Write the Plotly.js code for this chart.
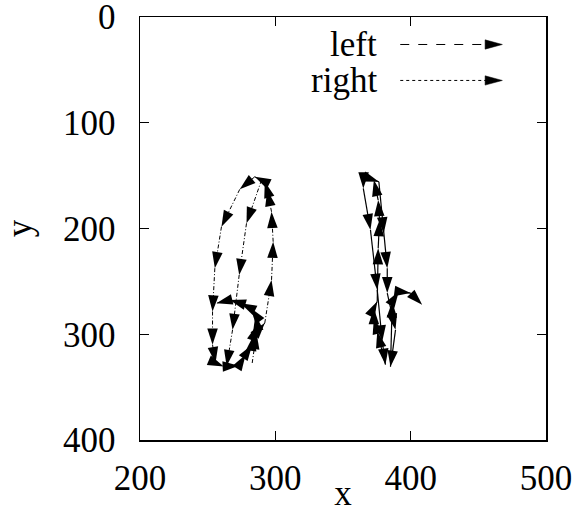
<!DOCTYPE html>
<html>
<head>
<meta charset="utf-8">
<script src="https://cdn.plot.ly/plotly-3.0.1.min.js"></script>
<style>html,body{margin:0;padding:0;background:#fff;}#chart{width:588px;height:513px;}</style>
</head>
<body>
<div id="chart"></div>
<script>
// ---- data ----
const xTickVals = [200, 300, 400, 500];
const yTickVals = [0, 100, 200, 300, 400];
const seriesNames = ["left", "right"];

// left trajectory (null = break between strokes)
const leftX = [282.9, 286.1, 292.2, 297.2, 298.4, 297.2, 294.0, 292.2, 284.8, 273.7, 260.2, 255.3, 253.6, 253.6, 255.8, 261.9, 273.0, 278.0, 282.9, 284.1, 286.6, 285.3, 281.7, 274.3, 266.4, 256.5,
  null, 289.8, 278.7, 273.3, 268.4, 264.0];
const leftY = [327.2, 298.9, 289.4, 248.6, 212.5, 184.2, 163.7, 155.8, 151.1, 163.0, 198.3, 237.5, 278.5, 309.9, 327.2, 330.4, 329.7, 319.3, 309.9, 300.5, 291.0, 281.6, 275.3, 270.6, 267.5, 270.6,
  null, 154.2, 195.1, 243.9, 295.8, 330.0];

// right trajectory
const rightX = [365.2, 365.0, 370.3, 375.3, 379.0, 381.4, 375.3, 372.8, 372.8, 375.3, 376.0, 377.0, 376.0, 372.8, 376.5, 380.1, 382.7, 382.7, 388.8, 385.1, 386.4, 391.2, 399.9, 408.5];
const rightY = [147.6, 162.1, 201.4, 258.0, 306.8, 328.8, 297.5, 284.7, 275.3, 269.1, 218.7, 192.0, 173.1, 154.2, 155.8, 204.5, 237.5, 261.1, 295.8, 330.7, 269.1, 259.6, 261.1, 272.2];

// ---- chart ----
const FONT = "Liberation Serif, Times New Roman, serif";
const FS = 35;
const traces = [
  {
    type: "scatter", mode: "lines+markers", name: seriesNames[0],
    x: leftX, y: leftY, connectgaps: false, showlegend: false,
    line: {color: "black", width: 1, dash: "4px,2px,1px,2px"},
    marker: {symbol: "arrow", angleref: "previous", size: 17, color: "black"}
  },
  {
    type: "scatter", mode: "lines+markers", name: seriesNames[1],
    x: rightX, y: rightY, showlegend: false,
    line: {color: "black", width: 1.2},
    marker: {symbol: "arrow", angleref: "previous", size: 17, color: "black"}
  }
];

// custom gnuplot-style key (paper coordinates)
const keyRows = [0.935, 0.85];
const keyDash = ["dash", "dot"];
const shapes = [], annotations = [];
keyRows.forEach((yy, i) => {
  shapes.push({type: "line", xref: "paper", yref: "paper", x0: 0.641, x1: 0.855, y0: yy, y1: yy,
    line: {color: "black", width: 1, dash: keyDash[i]}});
  shapes.push({type: "path", xref: "paper", yref: "paper",
    path: `M 0.850 ${yy + 0.011} L 0.8925 ${yy} L 0.850 ${yy - 0.011} Z`,
    fillcolor: "black", line: {color: "black", width: 0.5}});
  annotations.push({xref: "paper", yref: "paper", x: 0.589, y: yy, xanchor: "right", yanchor: "middle",
    text: seriesNames[i], showarrow: false, font: {family: FONT, size: FS, color: "black"}});
});

const axisCommon = {
  showgrid: false, zeroline: false, showline: true, mirror: "allticks",
  linecolor: "black", linewidth: 1.5, ticks: "inside", ticklen: 9, tickwidth: 1, tickcolor: "black",
  tickfont: {family: FONT, size: FS, color: "black"}, ticklabeloverflow: "allow"
};

const layout = {
  width: 588, height: 513,
  margin: {l: 139.5, r: 42.3, t: 16.5, b: 72.5},
  paper_bgcolor: "white", plot_bgcolor: "white",
  showlegend: false,
  xaxis: Object.assign({}, axisCommon, {
    range: [200, 500], tickmode: "array", tickvals: xTickVals, ticktext: xTickVals.map(String),
    ticklabelstandoff: 6,
    title: {text: "x", font: {family: FONT, size: FS, color: "black"}, standoff: 4}
  }),
  yaxis: Object.assign({}, axisCommon, {
    range: [400, 0], tickmode: "array", tickvals: yTickVals, ticktext: yTickVals.map(String),
    ticklabelstandoff: 16,
    title: {text: "y", font: {family: FONT, size: FS, color: "black"}, standoff: 28}
  }),
  shapes: shapes, annotations: annotations
};

Plotly.newPlot("chart", traces, layout, {staticPlot: true, displayModeBar: false});
</script>
</body>
</html>
